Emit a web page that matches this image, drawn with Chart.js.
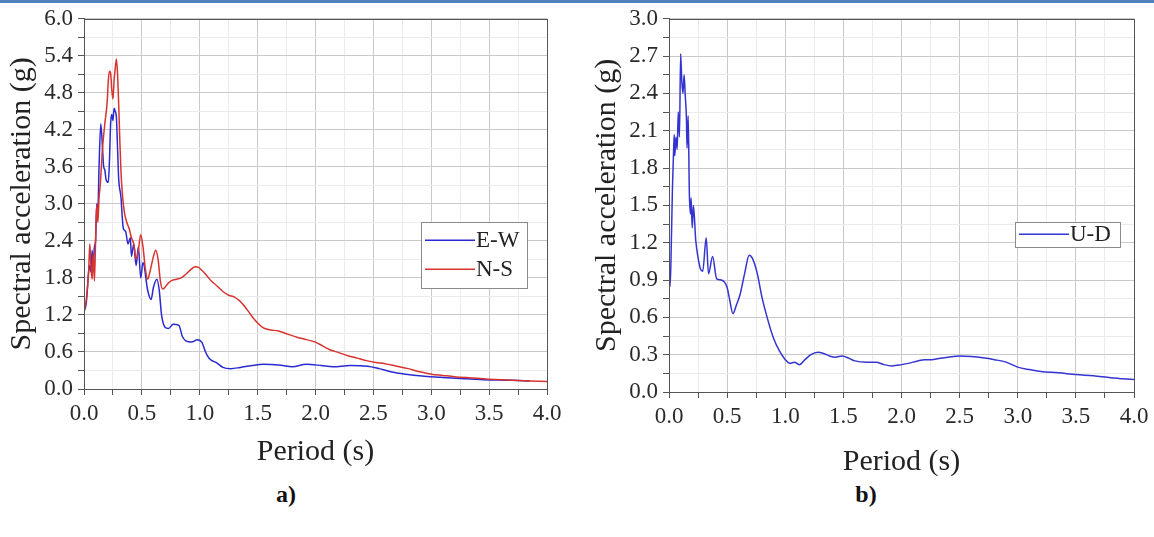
<!DOCTYPE html>
<html>
<head>
<meta charset="utf-8">
<script src="https://cdn.jsdelivr.net/npm/chart.js@4.4.0/dist/chart.umd.min.js"></script>
<style>
  body { margin: 0; background: #fff; width: 1154px; height: 537px; position: relative; overflow: hidden;
         font-family: "Liberation Serif", "Times New Roman", serif; }
  #topbar { position: absolute; left: 0; top: 0; width: 1154px; height: 3px; background: #4f81bd; }
  .box { position: absolute; top: 0; width: 577px; height: 480px; }
  .lbl { position: absolute; top: 480px; width: 100px; height: 28px; line-height: 28px; text-align: center;
         font-weight: bold; font-size: 24px; color: #111; }
</style>
</head>
<body>
<div id="topbar"></div>
<div class="box" style="left:0"><canvas id="chartA" width="577" height="480"></canvas></div>
<div class="box" style="left:577px"><canvas id="chartB" width="577" height="480"></canvas></div>
<div class="lbl" style="left:236px">a)</div>
<div class="lbl" style="left:816px">b)</div>

<script>
// ------------------------------------------
// Daten
// ------------------------------------------
const ewT  = [0, 0.02, 0.04, 0.05, 0.06, 0.07, 0.08, 0.09, 0.10, 0.11, 0.12, 0.13, 0.145, 0.16, 0.17, 0.18, 0.19, 0.21, 0.22, 0.23, 0.24, 0.25, 0.26, 0.27, 0.28, 0.29, 0.30, 0.32, 0.33, 0.34, 0.36, 0.38, 0.40, 0.41, 0.43, 0.45, 0.47, 0.49, 0.51, 0.55, 0.58, 0.60, 0.63, 0.65, 0.67, 0.70, 0.73, 0.77, 0.82, 0.85, 0.88, 0.93, 0.98, 1.02, 1.05, 1.08, 1.15, 1.20, 1.27, 1.35, 1.45, 1.55, 1.68, 1.80, 1.92, 2.05, 2.15, 2.30, 2.45, 2.55, 2.65, 2.78, 2.92, 3.08, 3.25, 3.45, 3.70, 3.85, 4.00];
const ewSA = [1.25, 1.4, 1.9, 2.0, 1.9, 2.25, 2.0, 2.3, 2.4, 3.0, 2.9, 3.6, 4.3, 3.9, 3.6, 3.55, 3.4, 3.35, 3.7, 4.3, 4.45, 4.35, 4.55, 4.5, 4.4, 3.9, 3.4, 3.1, 2.8, 2.6, 2.55, 2.35, 2.45, 2.15, 2.35, 2.0, 2.3, 1.8, 2.05, 1.6, 1.45, 1.65, 1.78, 1.6, 1.2, 1.0, 0.98, 1.05, 1.03, 0.85, 0.78, 0.76, 0.8, 0.75, 0.6, 0.5, 0.42, 0.35, 0.33, 0.35, 0.38, 0.4, 0.39, 0.36, 0.4, 0.38, 0.36, 0.38, 0.37, 0.33, 0.28, 0.24, 0.21, 0.19, 0.17, 0.15, 0.14, 0.13];

const nsT  = [0, 0.02, 0.04, 0.05, 0.06, 0.07, 0.08, 0.09, 0.10, 0.11, 0.12, 0.13, 0.14, 0.16, 0.18, 0.20, 0.21, 0.22, 0.23, 0.24, 0.25, 0.26, 0.27, 0.28, 0.29, 0.30, 0.31, 0.32, 0.33, 0.34, 0.35, 0.37, 0.39, 0.41, 0.43, 0.45, 0.47, 0.49, 0.51, 0.53, 0.55, 0.57, 0.60, 0.62, 0.64, 0.66, 0.68, 0.70, 0.73, 0.76, 0.80, 0.84, 0.88, 0.92, 0.96, 0.99, 1.02, 1.06, 1.10, 1.15, 1.20, 1.25, 1.30, 1.35, 1.40, 1.45, 1.50, 1.55, 1.60, 1.68, 1.76, 1.84, 1.92, 2.00, 2.06, 2.12, 2.20, 2.28, 2.36, 2.44, 2.52, 2.60, 2.70, 2.80, 2.90, 3.00, 3.10, 3.20, 3.35, 3.50, 3.70, 3.85, 4.00];
const nsSA = [1.25, 1.45, 1.9, 2.35, 2.0, 1.78, 2.2, 1.75, 2.4, 3.0, 2.7, 3.1, 3.3, 3.9, 4.3, 4.65, 5.0, 5.15, 5.12, 4.85, 4.7, 5.0, 5.2, 5.35, 5.1, 4.6, 4.0, 3.5, 3.2, 3.0, 2.85, 2.7, 2.6, 2.45, 2.35, 2.1, 2.25, 2.5, 2.3, 1.95, 1.78, 1.9, 2.15, 2.25, 2.1, 1.75, 1.62, 1.65, 1.72, 1.76, 1.78, 1.8, 1.86, 1.93, 1.98, 1.97, 1.92, 1.84, 1.75, 1.67, 1.58, 1.52, 1.49, 1.42, 1.31, 1.18, 1.07, 0.99, 0.96, 0.94, 0.89, 0.84, 0.8, 0.76, 0.7, 0.64, 0.59, 0.54, 0.5, 0.46, 0.43, 0.41, 0.37, 0.33, 0.28, 0.24, 0.22, 0.2, 0.18, 0.16, 0.14, 0.13, 0.12];

const udT  = [0, 0.01, 0.02, 0.03, 0.04, 0.045, 0.05, 0.06, 0.07, 0.08, 0.09, 0.10, 0.11, 0.12, 0.13, 0.14, 0.15, 0.155, 0.165, 0.175, 0.185, 0.19, 0.20, 0.21, 0.23, 0.25, 0.27, 0.29, 0.32, 0.34, 0.375, 0.41, 0.45, 0.50, 0.52, 0.55, 0.58, 0.61, 0.65, 0.69, 0.72, 0.76, 0.80, 0.85, 0.90, 0.95, 1.00, 1.04, 1.08, 1.12, 1.17, 1.22, 1.28, 1.33, 1.38, 1.43, 1.49, 1.55, 1.60, 1.70, 1.78, 1.85, 1.92, 2.00, 2.06, 2.14, 2.20, 2.26, 2.32, 2.40, 2.50, 2.60, 2.70, 2.80, 2.90, 3.00, 3.10, 3.20, 3.35, 3.50, 3.65, 3.80, 4.00];
const udSA = [0.87, 0.85, 1.2, 1.65, 1.95, 2.07, 1.9, 2.05, 1.95, 2.25, 2.05, 2.72, 2.5, 2.4, 2.55, 2.38, 2.2, 1.96, 2.22, 1.6, 1.43, 1.56, 1.32, 1.5, 1.22, 1.08, 0.99, 0.97, 1.24, 0.95, 1.09, 0.91, 0.9, 0.84, 0.75, 0.63, 0.7, 0.78, 0.95, 1.1, 1.07, 0.95, 0.76, 0.58, 0.43, 0.33, 0.26, 0.23, 0.24, 0.22, 0.26, 0.3, 0.32, 0.31, 0.29, 0.28, 0.29, 0.27, 0.25, 0.24, 0.24, 0.22, 0.21, 0.22, 0.23, 0.25, 0.26, 0.26, 0.27, 0.28, 0.29, 0.285, 0.275, 0.26, 0.24, 0.2, 0.18, 0.165, 0.155, 0.14, 0.13, 0.115, 0.1];

const SERIF = '"Liberation Serif", "Times New Roman", serif';

// Rahmen um die Zeichenfläche
const framePlugin = {
    id: 'frame',
    afterDatasetsDraw(chart) {
        const a = chart.chartArea, ctx = chart.ctx;
        ctx.save();
        ctx.strokeStyle = '#555';
        ctx.lineWidth = 1;
        ctx.strokeRect(Math.round(a.left) + 0.5, Math.round(a.top) + 0.5, Math.round(a.right - a.left), Math.round(a.bottom - a.top));
        ctx.restore();
    }
};

// Legende als Kasten innerhalb der Zeichenfläche
const boxLegend = {
    id: 'boxLegend',
    afterDraw(chart, args, opts) {
        const ctx = chart.ctx, a = chart.chartArea;
        const x0 = a.right - opts.right - opts.width;
        const y0 = a.top + opts.top;
        const n = chart.data.datasets.length;
        const h = opts.rowH * n + opts.pad * 2;
        ctx.save();
        ctx.fillStyle = '#fff';
        ctx.fillRect(x0, y0, opts.width, h);
        ctx.strokeStyle = '#8a8a8a';
        ctx.lineWidth = 1;
        ctx.strokeRect(Math.round(x0) + 0.5, Math.round(y0) + 0.5, opts.width, h);
        ctx.font = '23px ' + SERIF;
        ctx.textBaseline = 'middle';
        chart.data.datasets.forEach((ds, i) => {
            const yy = y0 + opts.pad + opts.rowH * (i + 0.5);
            ctx.strokeStyle = ds.borderColor;
            ctx.lineWidth = 1.5;
            ctx.beginPath();
            ctx.moveTo(x0 + 4, yy);
            ctx.lineTo(x0 + 4 + opts.lineLen, yy);
            ctx.stroke();
            ctx.fillStyle = '#222';
            ctx.fillText(ds.label, x0 + 5 + opts.lineLen, yy + 1);
        });
        ctx.restore();
    }
};

function isMajor(v, step) {
    return Math.abs(v / step - Math.round(v / step)) < 1e-6;
}

function makeChart(canvasId, datasets, g) {
    const config = {
        type: 'line',
        data: { datasets: datasets },
        options: {
            responsive: false,
            animation: false,
            devicePixelRatio: 1,
            layout: { padding: { top: g.top, right: g.right, bottom: 0, left: 0 } },
            elements: { point: { radius: 0 }, line: { borderWidth: 1.5, cubicInterpolationMode: 'monotone' } },
            plugins: {
                legend: { display: false },
                tooltip: { enabled: false },
                boxLegend: g.legend
            },
            scales: {
                x: {
                    type: 'linear',
                    min: 0, max: 4,
                    afterFit: s => { s.height = g.xH; },
                    grid: {
                        color: c => isMajor(c.tick.value, 0.5) ? '#c9c9c9' : '#ebebeb',
                        tickColor: '#555',
                        tickLength: 6
                    },
                    border: { color: '#555' },
                    ticks: {
                        stepSize: 0.25,
                        autoSkip: false,
                        maxRotation: 0,
                        padding: 5,
                        color: '#2a2a2a',
                        font: { family: SERIF, size: 23 },
                        callback: v => isMajor(v, 0.5) ? v.toFixed(1) : ''
                    },
                    title: {
                        display: true,
                        text: 'Period (s)',
                        color: '#222',
                        font: { family: SERIF, size: 30, lineHeight: 1.2 },
                        padding: { top: 0, bottom: g.xTitlePad }
                    }
                },
                y: {
                    min: 0, max: g.yMax,
                    afterFit: s => { s.width = g.yW; },
                    grid: {
                        color: c => isMajor(c.tick.value, g.yMajor) ? '#c9c9c9' : '#ebebeb',
                        tickColor: '#555',
                        tickLength: 6
                    },
                    border: { color: '#555' },
                    ticks: {
                        stepSize: g.yMajor / 2,
                        autoSkip: false,
                        padding: 5,
                        color: '#2a2a2a',
                        font: { family: SERIF, size: 23 },
                        callback: v => isMajor(v, g.yMajor) ? v.toFixed(1) : ''
                    },
                    title: {
                        display: true,
                        text: 'Spectral acceleration (g)',
                        color: '#222',
                        font: { family: SERIF, size: 30, lineHeight: 1.2 },
                        padding: { top: g.yTitlePad, bottom: 0 }
                    }
                }
            }
        },
        plugins: [framePlugin, boxLegend]
    };
    return new Chart(document.getElementById(canvasId), config);
}

const toXY = (t, v) => t.map((x, i) => ({ x: x, y: v[i] }));

// ------------------------------------------
// a) E-W und N-S
// ------------------------------------------
makeChart('chartA', [
    { label: 'E-W', data: toXY(ewT, ewSA), borderColor: '#2a2ad2', order: 2 },
    { label: 'N-S', data: toXY(nsT, nsSA), borderColor: '#d8332e', order: 1 }
], {
    top: 15, right: 30, xH: 91, yW: 84, yMax: 6, yMajor: 0.6,
    xTitlePad: 10, yTitlePad: 4,
    legend: { right: 20, top: 203, width: 106, rowH: 29, pad: 4, lineLen: 50 }
});

// ------------------------------------------
// b) U-D
// ------------------------------------------
makeChart('chartB', [
    { label: 'U-D', data: toXY(udT, udSA), borderColor: '#3434d0' }
], {
    top: 17, right: 20, xH: 88, yW: 92, yMax: 3, yMajor: 0.3,
    xTitlePad: 0, yTitlePad: 12,
    legend: { right: 14, top: 203, width: 105, rowH: 23, pad: 1, lineLen: 50 }
});
</script>
</body>
</html>
